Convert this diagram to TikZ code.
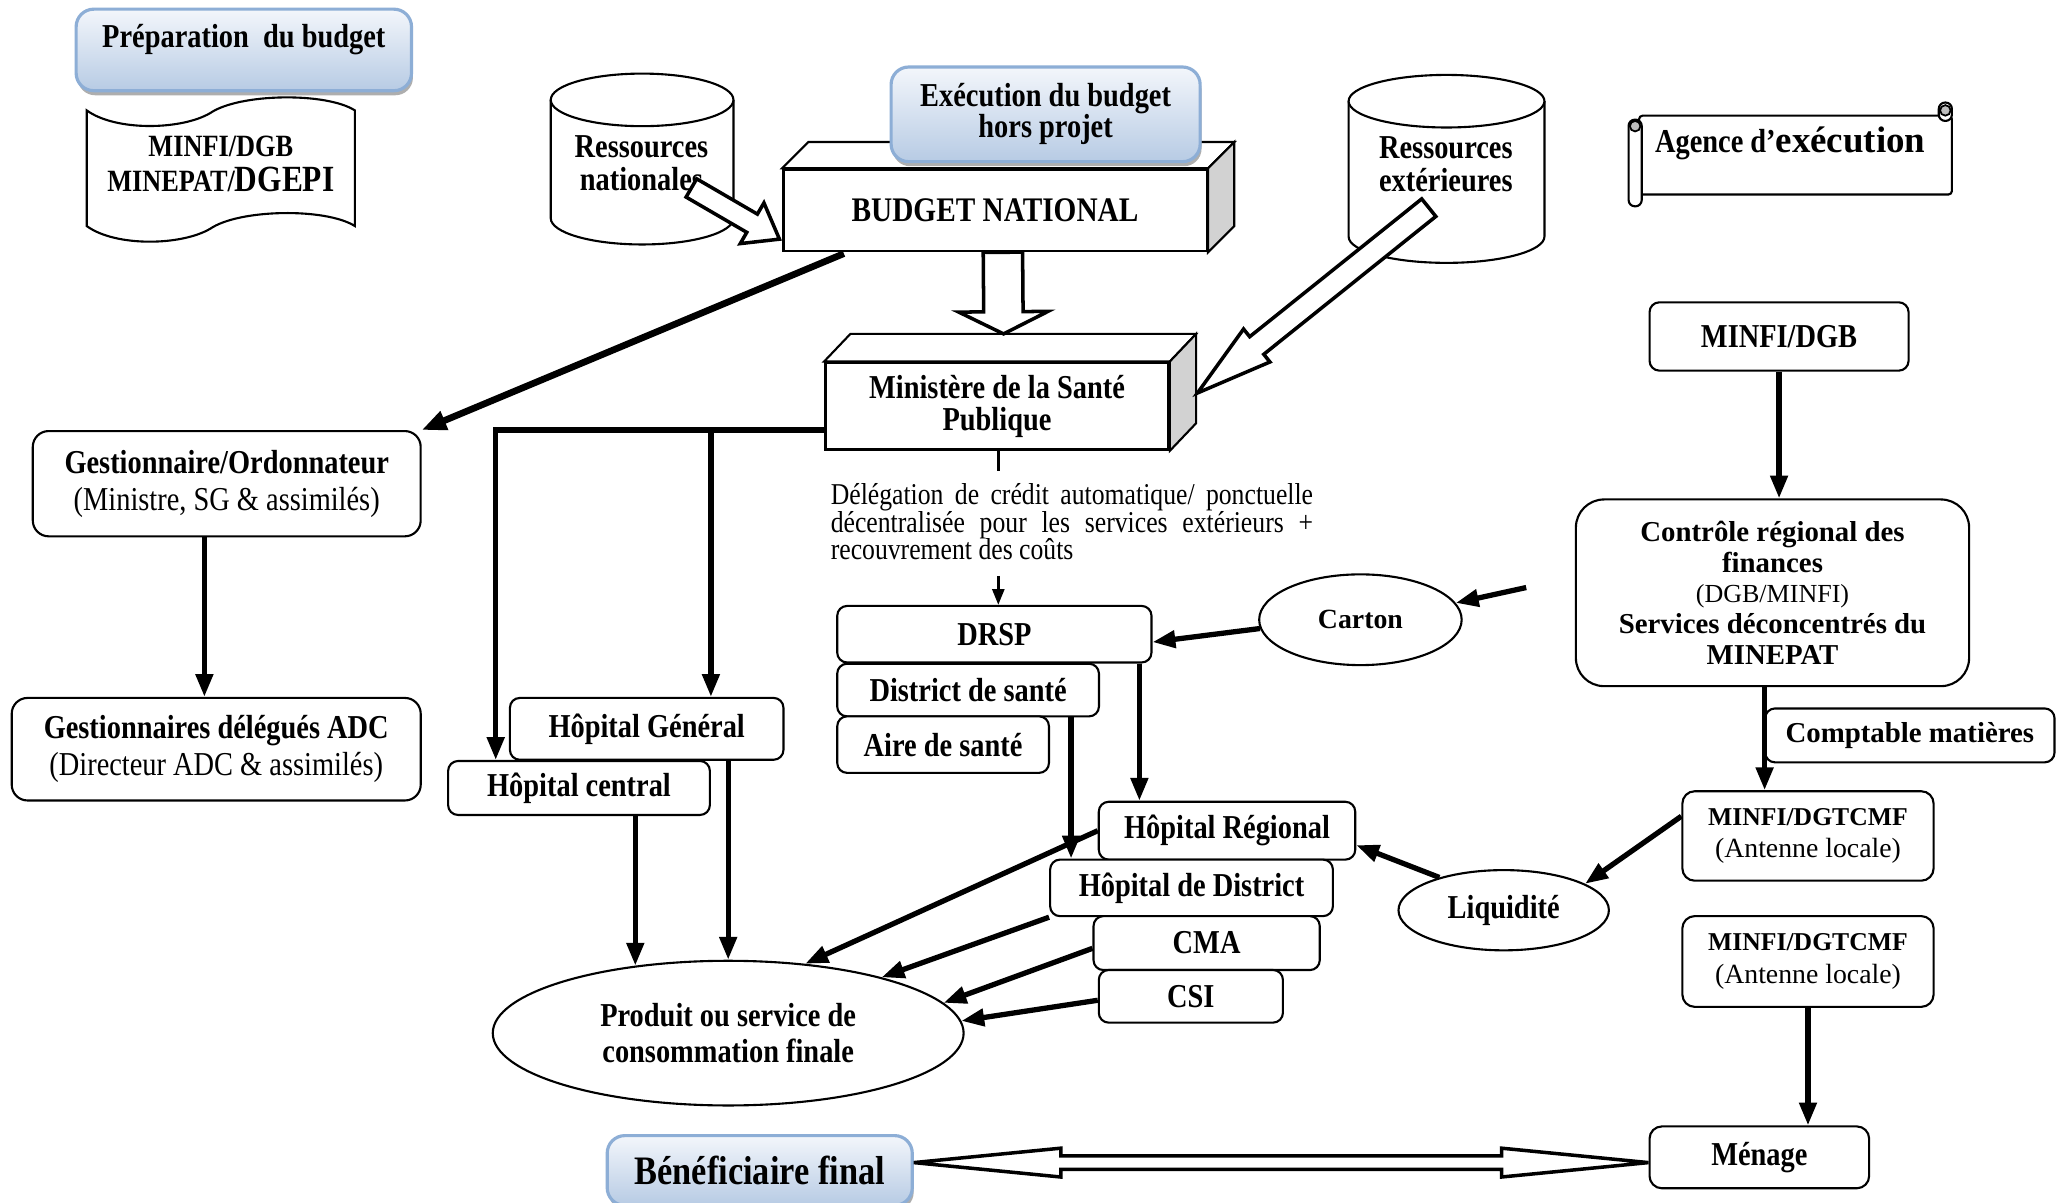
\documentclass[tikz,border=0pt]{standalone}
\usepackage{fontspec}
\setmainfont{Liberation Serif}
\newfontfamily\condfont{Liberation Serif}[FakeStretch=0.85]
\usetikzlibrary{arrows.meta,calc,shapes.geometric,shadows}

\definecolor{blueTop}{RGB}{243,246,251}
\definecolor{blueBottom}{RGB}{183,203,228}
\definecolor{blueEdge}{RGB}{141,174,214}
\definecolor{sideGray}{RGB}{210,210,210}
\definecolor{curlGray}{RGB}{190,190,190}

\newcommand{\boxfont}{\condfont\bfseries\fontsize{9.5}{10.2}\selectfont}
\newcommand{\plainfont}{\bfseries\fontsize{8.2}{8.8}\selectfont}

% hollow block arrow: tail, tip, half shaft, half head, head length
\newcommand{\hollowarrow}[5]{%
  \coordinate (hb) at ($(#2)!#5!(#1)$);
  \draw[hollow] ($(#1)!#3!90:(#2)$) -- ($(hb)!#3!90:(#2)$) -- ($(hb)!#4!90:(#2)$)
    -- (#2) -- ($(hb)!#4!-90:(#2)$) -- ($(hb)!#3!-90:(#2)$) -- ($(#1)!#3!-90:(#2)$) -- cycle;}

% same, with a head at both ends
\newcommand{\hollowdouble}[5]{%
  \coordinate (hl) at ($(#1)!#5!(#2)$);
  \coordinate (hr) at ($(#2)!#5!(#1)$);
  \draw[hollow] (#1) -- ($(hl)!#4!90:(#2)$) -- ($(hl)!#3!90:(#2)$) -- ($(hr)!#3!-90:(#1)$)
    -- ($(hr)!#4!-90:(#1)$) -- (#2) -- ($(hr)!#4!90:(#1)$) -- ($(hr)!#3!90:(#1)$)
    -- ($(hl)!#3!-90:(#2)$) -- ($(hl)!#4!-90:(#2)$) -- cycle;}

\tikzset{
  txt/.style={font=\boxfont, align=center},
  box/.style={txt, draw, fill=white, line width=0.6pt, rounded corners=2.8pt, inner sep=0pt},
  bigbox/.style={box, rounded corners=4.5pt},
  bluebox/.style={txt, draw=blueEdge, line width=0.9pt, rounded corners=5pt, inner sep=0pt,
    top color=blueTop, bottom color=blueBottom,
    drop shadow={shadow xshift=0.4pt, shadow yshift=-1.3pt, fill=black!45, opacity=0.7}},
  face/.style={txt, draw, fill=white, line width=0.7pt, inner sep=0pt},
  oval/.style={txt, draw, ellipse, fill=white, line width=0.6pt, inner sep=0pt},
  outline/.style={draw, fill=white, line width=0.6pt},
  hollow/.style={draw, fill=white, line width=1pt, line join=miter},
  link/.style={line width=1.5pt, -{Triangle[length=6.5pt, width=4.8pt]}},
  biglink/.style={line width=1.9pt, -{Triangle[length=7pt, width=5.4pt]}},
  thinlink/.style={line width=0.8pt, -{Triangle[length=4.5pt, width=3.4pt]}},
}

\begin{document}
\begin{tikzpicture}[x=0.013144cm, y=-0.013144cm]
  \path[use as bounding box, fill=white] (0,0) rectangle (1568,915);

  % preparation du budget
  \node[bluebox, minimum width=3.352cm, minimum height=0.815cm, text depth=8pt] (prep) at (185.5,38) {Préparation\ \ du budget};
  \draw[outline] (66,84) .. controls (88,100) and (138,99) .. (160,86)
    .. controls (182,71) and (248,70) .. (270,84) -- (270,172)
    .. controls (248,158) and (182,159) .. (160,174)
    .. controls (138,187) and (88,188) .. (66,172) -- cycle;
  \node[txt, font=\condfont\bfseries\fontsize{8.8}{10}\selectfont] (minfiDoc) at (168,125)
    {MINFI/DGB\\MINEPAT/{\fontsize{10.5}{10}\selectfont DGEPI}};

  % budget national
  \node[face, minimum width=4.232cm, minimum height=0.815cm, font=\condfont\bfseries\fontsize{9.8}{11}\selectfont] (budget) at (757,160) {BUDGET NATIONAL};
  \draw[outline] (budget.north west) -- ++(20,-20) -- ($(budget.north east)+(20,-20)$) -- (budget.north east) -- cycle;
  \draw[outline, fill=sideGray] (budget.north east) -- ++(20,-20) -- ($(budget.south east)+(20,-20)$) -- (budget.south east) -- cycle;
  \node[bluebox, minimum width=3.089cm, minimum height=0.946cm, font=\condfont\bfseries\fontsize{9.5}{8.8}\selectfont] (exec) at (795.5,87) {Exécution du budget\\hors projet};

  % ressources
  \draw[outline] (419,76) -- (419,166) arc[start angle=180, end angle=0, x radius=69.5, y radius=20] -- (558,76);
  \draw[outline] (488.5,76) ellipse[x radius=69.5, y radius=20];
  \node[txt, font=\condfont\bfseries\fontsize{9.5}{9.3}\selectfont] (resnat) at (488,124) {Ressources\\nationales};
  \draw[outline] (1026,77) -- (1026,180) arc[start angle=180, end angle=0, x radius=74.5, y radius=20] -- (1175,77);
  \draw[outline] (1100.5,77) ellipse[x radius=74.5, y radius=20];
  \node[txt, font=\condfont\bfseries\fontsize{9.5}{9.3}\selectfont] (resext) at (1100,125) {Ressources\\extérieures};

  \coordinate (natTail) at (526,143);
  \coordinate (natTip) at ($(budget.south west)+(-2,-10)$);
  \hollowarrow{natTail}{natTip}{3pt}{6.7pt}{9pt}

  % agence d'execution
  \draw[outline, rounded corners=1pt] (1247,88) rectangle (1485,148);
  \draw[outline, rounded corners=1.8pt] (1239,91) rectangle (1249,157);
  \draw[outline, rounded corners=1.8pt] (1475,78) rectangle (1485,92);
  \draw[fill=curlGray, line width=0.5pt] (1244,96) circle[radius=4];
  \draw[fill=curlGray, line width=0.5pt] (1480,84) circle[radius=4];
  \node[txt] (agence) at (1362,109) {Agence d’{\rmfamily\bfseries\fontsize{10.5}{11}\selectfont exécution}};

  % ministere
  \node[face, minimum width=3.431cm, minimum height=0.868cm, font=\condfont\bfseries\fontsize{9.5}{9}\selectfont] (minist) at (758.5,309) {Ministère de la Santé\\Publique};
  \draw[outline] (minist.north west) -- ++(20,-21) -- ($(minist.north east)+(20,-21)$) -- (minist.north east) -- cycle;
  \draw[outline, fill=sideGray] (minist.north east) -- ++(20,-21) -- ($(minist.south east)+(20,-21)$) -- (minist.south east) -- cycle;

  \coordinate (budOut) at ($(budget.south)+(6,0)$);
  \coordinate (minIn) at ($(minist.north)+(5,-21)$);
  \hollowarrow{budOut}{minIn}{5.6pt}{12.7pt}{6.3pt}
  \coordinate (extTail) at ($(resext.center)+(-13,33)$);
  \coordinate (extTip) at ($(minist.east)+(21,-10)$);
  \hollowarrow{extTail}{extTip}{3.2pt}{6pt}{21.6pt}

  % gestionnaires
  \node[bigbox, minimum width=3.877cm, minimum height=1.052cm, font=\condfont\bfseries\fontsize{9.5}{10.4}\selectfont] (gest) at (172.5,368)
    {Gestionnaire/Ordonnateur\\{\mdseries (Ministre, SG \& assimilés)}};
  \node[bigbox, minimum width=4.088cm, minimum height=1.025cm, font=\condfont\bfseries\fontsize{9.5}{10.4}\selectfont] (gestdel) at (164.5,570)
    {Gestionnaires délégués ADC\\{\mdseries (Directeur ADC \& assimilés)}};

  % hopitaux centraux
  \node[box, minimum width=2.734cm, minimum height=0.618cm] (hgen) at (492,554.5) {Hôpital Général};
  \node[box, minimum width=2.616cm, minimum height=0.539cm] (hcen) at (440.5,599.5) {Hôpital central};

  % delegation de credit
  \node[font=\condfont\fontsize{8.6}{7.9}\selectfont, text width=4.82cm, align=justify, inner sep=0pt] (delegtxt) at (815.5,397)
    {Délégation de crédit automatique/ ponctuelle\linebreak décentralisée pour les services extérieurs +\linebreak recouvrement des coûts};

  \node[box, minimum width=3.141cm, minimum height=0.565cm] (drsp) at (756.5,482.5) {DRSP};
  \node[box, minimum width=2.616cm, minimum height=0.526cm] (dist) at (736.5,525) {District de santé};
  \node[box, minimum width=2.116cm, minimum height=0.565cm] (aire) at (717.5,566.5) {Aire de santé};
  \node[oval, font=\bfseries\fontsize{7.9}{9}\selectfont, minimum width=2.024cm, minimum height=0.907cm] (carton) at (1035,471.5) {Carton};

  \node[box, minimum width=2.563cm, minimum height=0.578cm] (hreg) at (933.5,632) {Hôpital Régional};
  \node[box, minimum width=2.826cm, minimum height=0.565cm] (hdist) at (906.5,675.5) {Hôpital de District};
  \node[box, minimum width=2.261cm, minimum height=0.539cm] (cma) at (918,717.5) {CMA};
  \node[box, minimum width=1.840cm, minimum height=0.526cm] (csi) at (906,758) {CSI};

  \node[oval, minimum width=4.706cm, minimum height=1.446cm, font=\condfont\bfseries\fontsize{9.5}{10.4}\selectfont] (produit) at (554,786)
    {Produit ou service de\\consommation finale};
  \node[oval, minimum width=2.103cm, minimum height=0.802cm] (liq) at (1144,692.5) {Liquidité};

  % chaine des finances
  \node[box, minimum width=2.589cm, minimum height=0.683cm] (mdgb) at (1353.5,256) {MINFI/DGB};
  \node[box, rounded corners=8pt, minimum width=3.930cm, minimum height=1.866cm, font=\plainfont] (contr) at (1348.5,451)
    {Contrôle régional des\\finances\\{\mdseries\fontsize{7.4}{8.8}\selectfont (DGB/MINFI)}\\Services déconcentrés du\\MINEPAT};
  \node[box, minimum width=2.892cm, minimum height=0.539cm, font=\plainfont] (compt) at (1453,559.5) {Comptable matières};
  \node[box, rounded corners=3.5pt, minimum width=2.511cm, minimum height=0.894cm, font=\bfseries\fontsize{7.3}{9.3}\selectfont] (dgtA) at (1375.5,636)
    {MINFI/DGTCMF\\{\mdseries\fontsize{7.9}{9.3}\selectfont (Antenne locale)}};
  \node[box, rounded corners=3.5pt, minimum width=2.511cm, minimum height=0.907cm, font=\bfseries\fontsize{7.3}{9.3}\selectfont] (dgtB) at (1375.5,731.5)
    {MINFI/DGTCMF\\{\mdseries\fontsize{7.9}{9.3}\selectfont (Antenne locale)}};
  \node[box, rounded corners=3.5pt, minimum width=2.195cm, minimum height=0.618cm] (menage) at (1338.5,880.5) {Ménage};
  \node[bluebox, minimum width=3.049cm, minimum height=0.697cm, font=\condfont\bfseries\fontsize{11.5}{12}\selectfont] (benef) at (578,890.5) {Bénéficiaire final};

  % liaisons
  \draw[biglink] ($(budget.south west)+(47,1)$) -- (gest.north east);
  \coordinate (gestOut) at ($(gest.south)+(-17,0)$);
  \draw[link] (gestOut) -- (gestOut |- gestdel.north);

  \coordinate (bus) at ($(minist.west)+(0,18)$);
  \coordinate (hcenIn) at ($(hcen.north west)+(37,0)$);
  \coordinate (hgenIn) at ($(hgen.north east)+(-56,0)$);
  \draw[line width=1.7pt, line cap=rect] (bus) -- (bus -| hcenIn);
  \draw[link] (bus -| hcenIn) -- (hcenIn);
  \draw[link] (bus -| hgenIn) -- (hgenIn);
  \draw[link] (produit.144 |- hcen.south) -- (produit.144);
  \draw[link] (produit.north |- hgen.south) -- (produit.north);

  \draw[line width=0.9pt] ($(minist.south)+(1,0)$) -- ++(0,15);
  \coordinate (drspIn) at ($(drsp.north)+(3,0)$);
  \draw[thinlink] ($(drspIn)+(0,-22)$) -- (drspIn);

  \coordinate (cartonIn) at ($(contr.west)+(-37,-4)$);
  \draw[link] (cartonIn) -- (carton.10);
  \draw[link] (carton.185) -- ($(drsp.east)+(0,6)$);

  \coordinate (drspOut) at ($(drsp.south east)+(-10,0)$);
  \draw[link] (drspOut) -- (drspOut |- hreg.north);
  \coordinate (distOut) at ($(dist.south east)+(-22,0)$);
  \draw[link] (distOut) -- (distOut |- hdist.north);

  \draw[link] (hreg.west) -- (produit.42);
  \draw[link] (hdist.south west) -- (produit.20);
  \draw[link] ($(cma.west)+(0,4)$) -- (produit.8);
  \draw[link] ($(csi.west)+(0,3)$) -- (produit.3);

  \draw[link] (liq.153) -- ($(hreg.east)+(0,11)$);
  \draw[link] ($(dgtA.west)+(0,-15)$) -- (liq.18);

  \draw[link] (mdgb.south) -- (mdgb.south |- contr.north);
  \coordinate (contrOut) at ($(contr.south)+(-6,0)$);
  \draw[link] (contrOut) -- (contrOut |- dgtA.north);
  \draw[link] (dgtB.south) -- (dgtB.south |- menage.north);

  \coordinate (benR) at ($(benef.east)+(0,-6)$);
  \coordinate (menL) at (menage.west |- benR);
  \hollowdouble{benR}{menL}{1.9pt}{4.1pt}{41.8pt}
\end{tikzpicture}
\end{document}
